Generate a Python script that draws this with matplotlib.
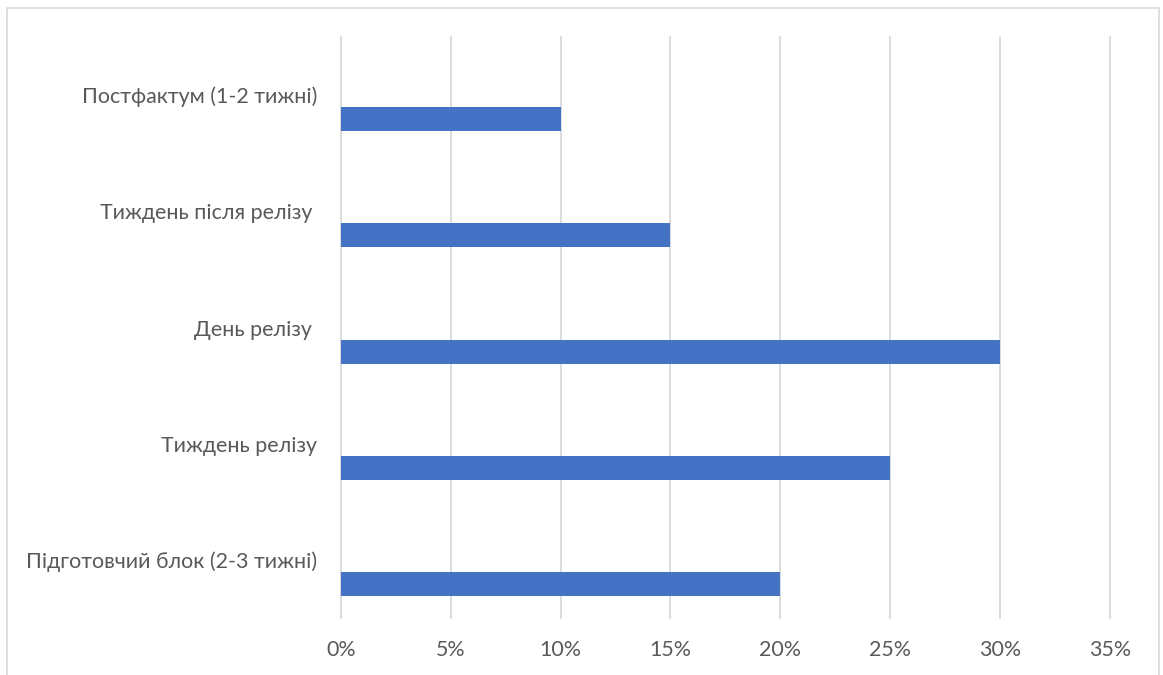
import matplotlib
matplotlib.use("Agg")
import matplotlib.pyplot as plt
from matplotlib.patches import Rectangle
from matplotlib.ticker import FuncFormatter, MultipleLocator

categories = ["Постфактум (1-2 тижні)", "Тиждень після релізу ", "День релізу ",
              "Тиждень релізу", "Підготовчий блок (2-3 тижні)"]
values = [10, 15, 30, 25, 20]

plt.rcParams['font.family'] = ['Lato', 'DejaVu Sans']
text_color = '#595959'
grid_color = '#D9D9D9'
bar_color = '#4472C4'

W, H = 1163, 675
fig = plt.figure(figsize=(W / 100, H / 100), dpi=100)
ax = fig.add_axes([341 / W, 1 - 618 / H, (1109.7 - 341) / W, (618 - 37) / H])

pos = list(range(len(categories)))
ax.barh([p + 0.207 for p in pos], values, height=0.207, color=bar_color, zorder=3)

ax.set_xlim(0, 35)
ax.set_ylim(len(categories) - 0.5, -0.5)
ax.xaxis.set_major_locator(MultipleLocator(5))
ax.xaxis.set_major_formatter(FuncFormatter(lambda v, _: f"{v:.0f}%"))
ax.set_yticks(pos)
ax.set_yticklabels(categories)

ax.grid(axis='x', color=grid_color, linewidth=1.3, zorder=0)
ax.grid(axis='y', visible=False)
for line in ax.get_xgridlines():
    line.set_clip_on(False)
for s in ax.spines.values():
    s.set_visible(False)

ax.tick_params(axis='x', length=0, pad=16, labelsize=15.4, labelcolor=text_color)
ax.tick_params(axis='y', length=0, pad=17, labelsize=15.4, labelcolor=text_color)

fig.patches.append(Rectangle((7 / W, -0.1), (1159 - 7) / W, 1.1 - 8 / H,
                             transform=fig.transFigure, fill=False,
                             edgecolor=grid_color, linewidth=1.2))

fig.savefig("out.png", dpi=100, facecolor='white')
